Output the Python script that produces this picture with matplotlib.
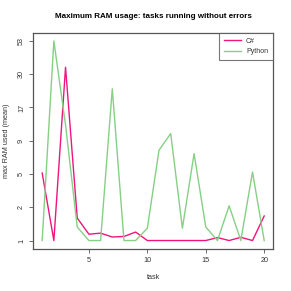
import numpy as np
import matplotlib
matplotlib.use("Agg")
import matplotlib.pyplot as plt

plt.rcParams["font.family"] = ["Liberation Sans", "DejaVu Sans"]

tasks = list(range(1, 21))
csharp = [5.1, 1.0, 34, 1.9, 1.22, 1.26, 1.12, 1.14, 1.3, 1.0,
          1.0, 1.0, 1.0, 1.0, 1.0, 1.1, 1.0, 1.11, 1.0, 2.0]
python = [1.0, 53, 12.5, 1.5, 1.0, 1.0, 23.5, 1.0, 1.0, 1.45,
          7.9, 10.7, 1.45, 7.4, 1.5, 1.0, 2.55, 1.0, 5.2, 1.0]
series = ["C#", "Python"]
colors = ["#F0147E", "#85D085"]


def fwd(v):
    return np.log(np.asarray(v, dtype=float) + 1)


def inv(v):
    return np.exp(v) - 1


fig = plt.figure(figsize=(2.91, 2.91), dpi=100)
ax = fig.add_axes([0.1144, 0.146, 0.824, 0.7406])

ax.plot(tasks, fwd(csharp), color=colors[0], lw=1.0, label=series[0])
ax.plot(tasks, fwd(python), color=colors[1], lw=1.0, label=series[1])

lo = fwd(min(csharp + python))
hi = fwd(max(csharp + python))
ticks = np.linspace(lo, hi, 7)
ax.set_yticks(ticks)
ax.set_yticklabels([f"{round(inv(t)):d}" for t in ticks], rotation=90, va="center")
pad = (hi - lo) * 0.04
ax.set_ylim(lo - pad, hi + pad)
ax.set_xlim(1 - 19 * 0.04, 20 + 19 * 0.04)
ax.set_xticks([5, 10, 15, 20])

for s in ax.spines.values():
    s.set_color("#555555")
    s.set_linewidth(0.9)
ax.tick_params(labelsize=5.2, length=3, width=0.6, color="#555555", pad=3,
               labelcolor="#333333")

ax.set_xlabel("task", fontsize=5.2, labelpad=7, color="#333333")
ax.set_ylabel("max RAM used (mean)", fontsize=5.2, labelpad=6, color="#333333")
ax.set_title("Maximum RAM usage: tasks running without errors",
             fontsize=5.8, fontweight="bold", pad=11)

leg = ax.legend(loc="upper right", fontsize=5, frameon=True, fancybox=False,
                borderaxespad=0, handlelength=2.4, borderpad=0.7, labelspacing=0.45,
                handletextpad=0.8)
leg.get_frame().set_edgecolor("#555555")
leg.get_frame().set_linewidth(0.8)
for t in leg.get_texts():
    t.set_color("#333333")

fig.savefig("out.png", dpi=100)
